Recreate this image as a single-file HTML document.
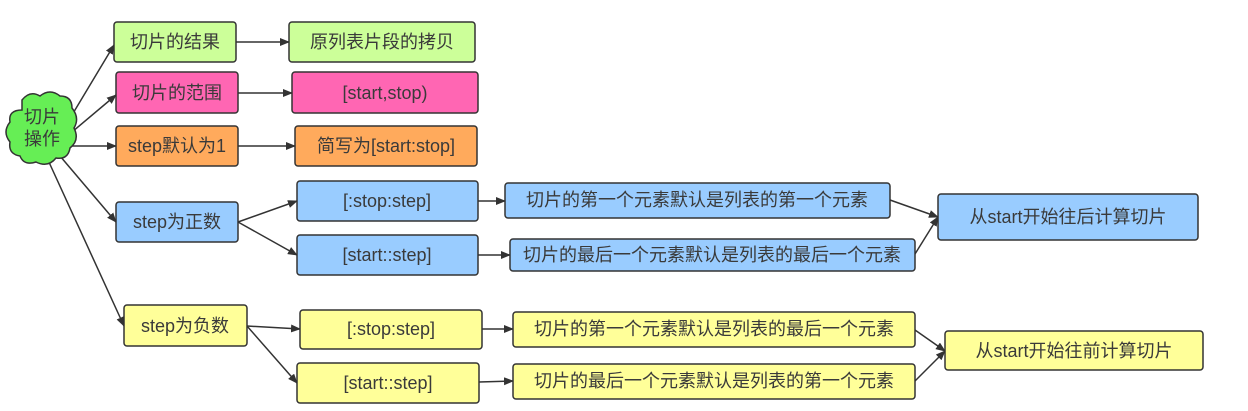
<!DOCTYPE html>
<html><head><meta charset="utf-8"><style>
html,body{margin:0;padding:0;background:#fff;}
svg text{font-family:"Liberation Sans","Noto Sans CJK SC",sans-serif;font-size:18px;fill:#3a3a3a;text-anchor:middle;dominant-baseline:central;}
rect{stroke:#333;stroke-width:1.5;}
</style></head><body>
<svg width="1248" height="406" viewBox="0 0 1248 406" xmlns="http://www.w3.org/2000/svg">
<defs><marker id="a" markerWidth="10" markerHeight="8" refX="9" refY="4" orient="auto" markerUnits="userSpaceOnUse"><path d="M0,0 L10,4 L0,8 Z" fill="#333"/></marker></defs>
<g stroke="#333" stroke-width="1.5" fill="none" marker-end="url(#a)">
<path d="M72,115 L114,45"/>
<path d="M72,132 L116,95"/>
<path d="M72,146 L116,146"/>
<path d="M60,156 L116,222"/>
<path d="M48,160 L124,326"/>
<path d="M236,42 L289,42"/>
<path d="M238,93 L292,93"/>
<path d="M238,146 L295,146"/>
<path d="M238,222 L297,201"/>
<path d="M238,222 L297,255"/>
<path d="M478,201 L505,201"/>
<path d="M478,255 L510,255"/>
<path d="M890,200 L938,217"/>
<path d="M915,254 L938,217"/>
<path d="M247,326 L300,329"/>
<path d="M247,326 L297,383"/>
<path d="M482,329 L513,329"/>
<path d="M479,382 L513,381"/>
<path d="M915,330 L945,351"/>
<path d="M915,381 L945,351"/>
</g>
<path d="M22,100 q8,-10 18,-4 q10,-8 20,0 q12,0 12,12 q8,10 2,20 q6,12 -4,20 q-2,12 -14,10 q-8,10 -20,4 q-12,4 -16,-6 q-12,-2 -10,-14 q-8,-10 0,-20 q-2,-12 12,-12 z" fill="#66ee55" stroke="#333" stroke-width="1.5"/>
<text x="42" y="117">切片</text><text x="42" y="139">操作</text>
<rect x="114" y="22" width="122" height="40" rx="3" fill="#ccff99"/><text x="175" y="42">切片的结果</text>
<rect x="289" y="22" width="186" height="40" rx="3" fill="#ccff99"/><text x="382" y="42">原列表片段的拷贝</text>
<rect x="116" y="72" width="122" height="41" rx="3" fill="#ff66b3"/><text x="177" y="93">切片的范围</text>
<rect x="292" y="72" width="186" height="41" rx="3" fill="#ff66b3"/><text x="385" y="93">[start,stop)</text>
<rect x="116" y="126" width="122" height="40" rx="3" fill="#ffaa5c"/><text x="177" y="146">step默认为1</text>
<rect x="295" y="126" width="182" height="40" rx="3" fill="#ffaa5c"/><text x="386" y="146">简写为[start:stop]</text>
<rect x="116" y="202" width="122" height="40" rx="3" fill="#99ccff"/><text x="177" y="222">step为正数</text>
<rect x="297" y="181" width="181" height="40" rx="3" fill="#99ccff"/><text x="387" y="201">[:stop:step]</text>
<rect x="297" y="235" width="181" height="40" rx="3" fill="#99ccff"/><text x="387" y="255">[start::step]</text>
<rect x="505" y="183" width="385" height="35" rx="3" fill="#99ccff"/><text x="697" y="200">切片的第一个元素默认是列表的第一个元素</text>
<rect x="510" y="239" width="405" height="32" rx="3" fill="#99ccff"/><text x="712" y="255">切片的最后一个元素默认是列表的最后一个元素</text>
<rect x="938" y="194" width="260" height="46" rx="3" fill="#99ccff"/><text x="1068" y="217">从start开始往后计算切片</text>
<rect x="124" y="305" width="123" height="41" rx="3" fill="#ffff99"/><text x="185" y="326">step为负数</text>
<rect x="300" y="310" width="182" height="39" rx="3" fill="#ffff99"/><text x="391" y="329">[:stop:step]</text>
<rect x="297" y="363" width="182" height="40" rx="3" fill="#ffff99"/><text x="388" y="383">[start::step]</text>
<rect x="513" y="312" width="402" height="35" rx="3" fill="#ffff99"/><text x="714" y="329">切片的第一个元素默认是列表的最后一个元素</text>
<rect x="513" y="364" width="402" height="35" rx="3" fill="#ffff99"/><text x="714" y="381">切片的最后一个元素默认是列表的第一个元素</text>
<rect x="945" y="331" width="258" height="39" rx="3" fill="#ffff99"/><text x="1074" y="351">从start开始往前计算切片</text>
</svg>
</body></html>
